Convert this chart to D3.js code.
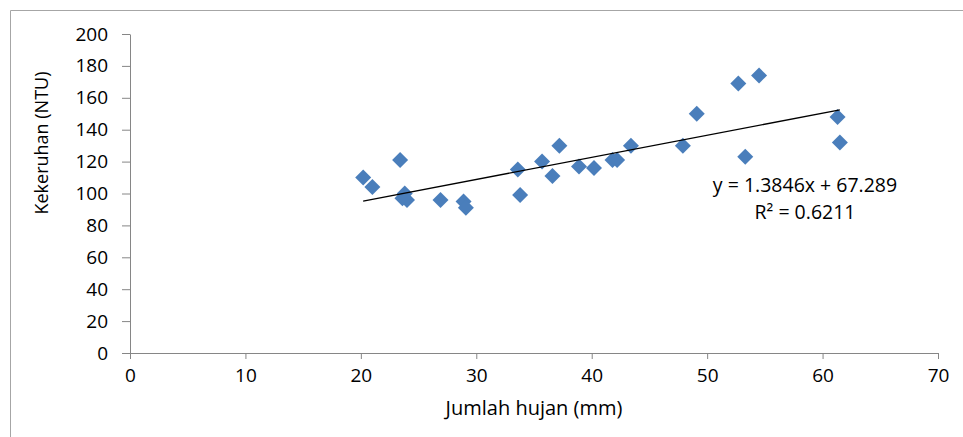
<!DOCTYPE html>
<html>
<head>
<meta charset="utf-8">
<script src="https://cdn.jsdelivr.net/npm/d3@7"></script>
<style>
  body { margin: 0; background: #fff; }
  text { font-family: "Open Sans", Lato, sans-serif; fill: #000; }
  .axis path, .axis line { stroke: #868686; }
</style>
</head>
<body>
<div id="vis"></div>
<script>
// rainfall (mm) and turbidity (NTU)
var rain = [20.2, 21.0, 23.4, 23.6, 23.8, 24.0, 26.9, 28.9, 29.1, 33.6, 33.8, 35.7, 36.6, 37.2,
            38.9, 40.2, 41.8, 42.2, 43.4, 47.9, 49.1, 52.7, 53.3, 54.5, 61.3, 61.5];
var turb = [110, 104, 121, 97, 100, 96, 96, 95, 91, 115, 99, 120, 111, 130,
            117, 116, 121, 121, 130, 130, 150, 169, 123, 174, 148, 132];

var xTicks = [0, 10, 20, 30, 40, 50, 60, 70];
var yTicks = [0, 20, 40, 60, 80, 100, 120, 140, 160, 180, 200];

// trend line from the label
var slope = 1.3846, intercept = 67.289;
var eqLabel = "y = 1.3846x + 67.289";
var r2Label = "R\u00b2 = 0.6211";

var W = 963, H = 437;
var margin = {top: 34, left: 130, right: 25, bottom: 84};
var width = W - margin.left - margin.right,
    height = H - margin.top - margin.bottom;

var x = d3.scaleLinear().domain([0, 70]).range([0, width]);
var y = d3.scaleLinear().domain([0, 200]).range([height, 0]);

var svg = d3.select("#vis").append("svg")
    .attr("width", W)
    .attr("height", H);

// outer frame (only left and top edges show)
svg.append("path")
    .attr("d", "M10.5," + H + "V10.5H" + W)
    .attr("fill", "none")
    .attr("stroke", "#a6a6a6");

var g = svg.append("g")
    .attr("transform", "translate(" + margin.left + "," + margin.top + ")");

// axes
g.append("g")
    .attr("class", "axis")
    .attr("transform", "translate(0," + height + ")")
    .call(d3.axisBottom(x).tickValues(xTicks).tickSizeInner(6).tickSizeOuter(6).tickPadding(10));

g.append("g")
    .attr("class", "axis")
    .call(d3.axisLeft(y).tickValues(yTicks).tickSizeInner(8).tickSizeOuter(0).tickPadding(14));

g.selectAll(".axis text")
    .attr("font-size", 19)
    .attr("fill", "#000");

// axis titles
g.append("text")
    .attr("x", 534 - margin.left)
    .attr("y", 415 - margin.top)
    .attr("text-anchor", "middle")
    .attr("font-size", 20)
    .text("Jumlah hujan (mm)");

g.append("text")
    .attr("transform", "translate(" + (48 - margin.left) + "," + (143 - margin.top) + ") rotate(-90)")
    .attr("text-anchor", "middle")
    .attr("font-size", 18)
    .text("Kekeruhan (NTU)");

var data = rain.map(function(d, i) { return {x: d, y: turb[i]}; });

// points
g.selectAll(".pt")
    .data(data)
  .enter().append("path")
    .attr("class", "pt")
    .attr("d", d3.symbol(d3.symbolSquare, 128))
    .attr("fill", "#4a7ebb")
    .attr("transform", function(d) {
      return "translate(" + x(d.x) + "," + y(d.y) + ") rotate(45)";
    });

// trend line
var ext = d3.extent(rain);
g.append("path")
    .datum(ext.map(function(v) { return {x: v, y: slope * v + intercept}; }))
    .attr("fill", "none")
    .attr("stroke", "#000")
    .attr("stroke-width", 1.3)
    .attr("d", d3.line()
      .x(function(d) { return x(d.x); })
      .y(function(d) { return y(d.y); }));

// equation labels
g.append("text")
    .attr("x", 805 - margin.left)
    .attr("y", 192 - margin.top)
    .attr("text-anchor", "middle")
    .attr("font-size", 19.5)
    .text(eqLabel);

g.append("text")
    .attr("x", 805 - margin.left)
    .attr("y", 219 - margin.top)
    .attr("text-anchor", "middle")
    .attr("font-size", 19.5)
    .text(r2Label);
</script>
</body>
</html>
